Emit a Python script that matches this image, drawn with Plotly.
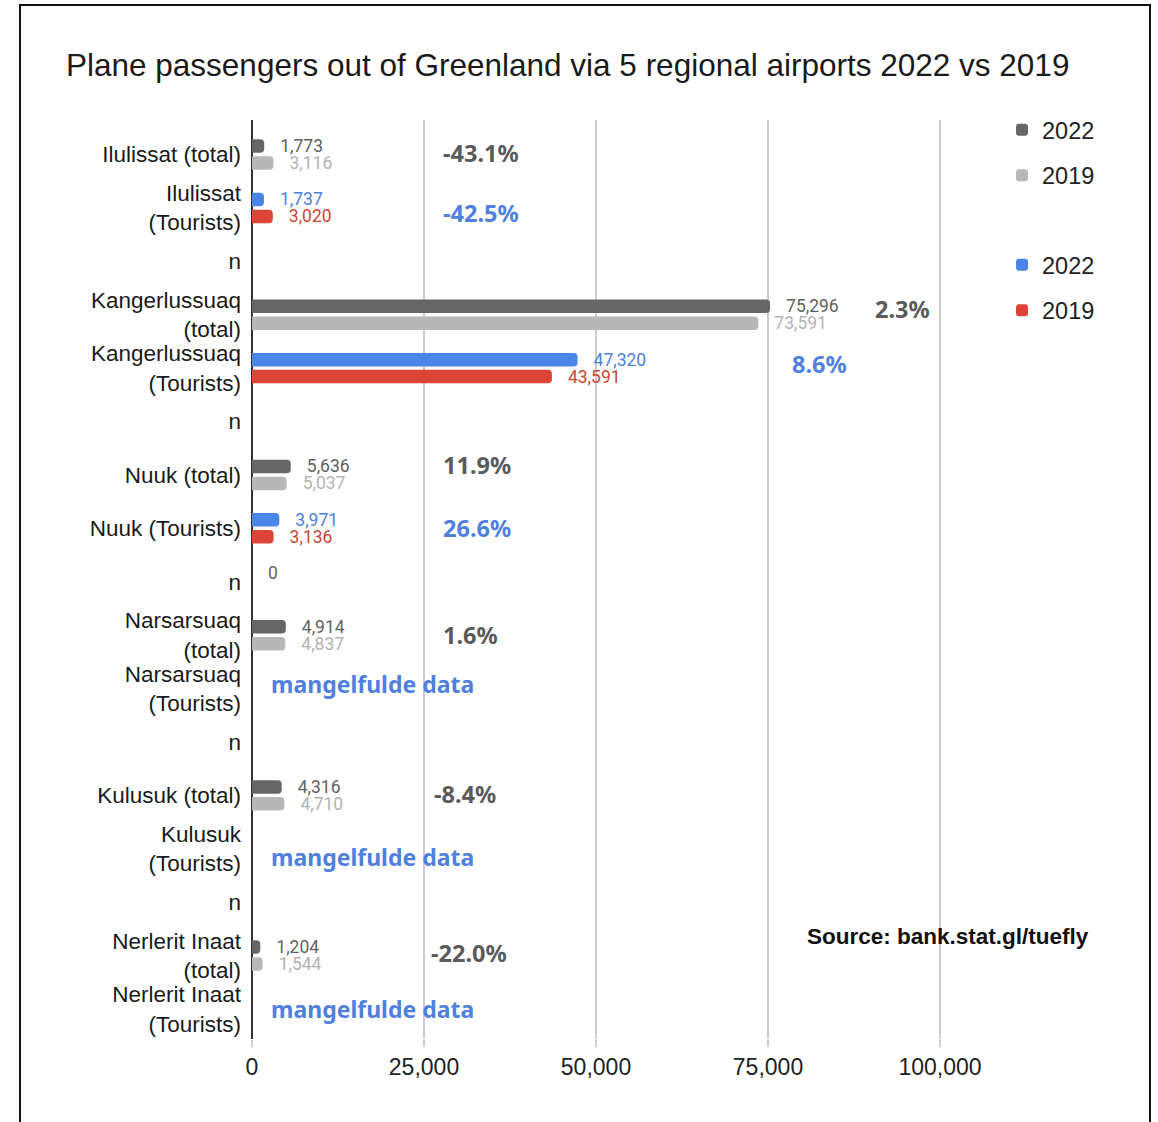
import plotly.graph_objects as go

# Row labels (top to bottom); "n" rows act as spacers between airports
rows = [
    "Ilulissat (total)", "Ilulissat<br>(Tourists)", "n",
    "Kangerlussuaq<br>(total)", "Kangerlussuaq<br>(Tourists)", "n",
    "Nuuk (total)", "Nuuk (Tourists)", "n",
    "Narsarsuaq<br>(total)", "Narsarsuaq<br>(Tourists)", "n",
    "Kulusuk (total)", "Kulusuk<br>(Tourists)", "n",
    "Nerlerit Inaat<br>(total)", "Nerlerit Inaat<br>(Tourists)",
]

# Passenger counts per row (None = no bar in that row)
total_2022 = [1773, None, None, 75296, None, None, 5636, None, 0, 4914, None, None, 4316, None, None, 1204, None]
total_2019 = [3116, None, None, 73591, None, None, 5037, None, None, 4837, None, None, 4710, None, None, 1544, None]
tourists_2022 = [None, 1737, None, None, 47320, None, None, 3971, None, None, None, None, None, None, None, None, None]
tourists_2019 = [None, 3020, None, None, 43591, None, None, 3136, None, None, None, None, None, None, None, None, None]

# Rows where tourist figures are incomplete, with a vertical nudge in px
missing_rows = [10, 13, 16]
missing_shift = [5, -8, 0]
missing_text = "mangelfulde data"

x_ticks = [0, 25000, 50000, 75000, 100000]

# Change 2022 vs 2019 drawn next to each pair: (row, x-centre, y-shift px down, series kind)
change_marks = [
    (0, 33300, -2, "total"),
    (1, 33300, 5, "tourists"),
    (3, 94500, -6, "total"),
    (4, 82500, -4, "tourists"),
    (6, 32700, -10, "total"),
    (7, 32700, 0, "tourists"),
    (9, 31700, 0, "total"),
    (12, 31000, -1, "total"),
    (15, 31500, -3, "total"),
]

C_DARK = "#666666"
C_LIGHT = "#b7b7b7"
C_BLUE = "#4a86e8"
C_RED = "#db4437"
T_DARK = "#5f5f5f"
T_LIGHT = "#b3b3b3"
T_BLUE = "#4f80dd"
T_RED = "#cc4636"
PCT_GRAY = "#5a5a5a"
PCT_BLUE = "#4f80dd"

SANS = "Liberation Sans, Arial, sans-serif"

pos = list(range(len(rows)))
BAR_W = 0.253
GAP = "\u00a0\u00a0\u00a0"


def bar_trace(values, color, text_color, name, legend, upper):
    offset = -0.159 - BAR_W / 2 if upper else 0.159 - BAR_W / 2
    return go.Bar(
        y=pos, x=values, orientation="h",
        width=BAR_W, offset=offset,
        marker=dict(color=color, line=dict(width=0)),
        text=["" if v is None else GAP + f"{v:,}" for v in values],
        textposition="outside", constraintext="none", cliponaxis=False,
        textfont=dict(family="Roboto", size=17.5, color=text_color),
        name=name, legend=legend, legendgroup=name + legend,
        hoverinfo="skip",
    )


fig = go.Figure()
fig.add_trace(bar_trace(total_2022, C_DARK, T_DARK, "2022", "legend", True))
fig.add_trace(bar_trace(total_2019, C_LIGHT, T_LIGHT, "2019", "legend", False))
fig.add_trace(bar_trace(tourists_2022, C_BLUE, T_BLUE, "2022", "legend2", True))
fig.add_trace(bar_trace(tourists_2019, C_RED, T_RED, "2019", "legend2", False))

annotations = []
for row, xc, ys, kind in change_marks:
    if kind == "total":
        new, old, col = total_2022[row], total_2019[row], PCT_GRAY
    else:
        new, old, col = tourists_2022[row], tourists_2019[row], PCT_BLUE
    pct = (new - old) / old * 100
    annotations.append(dict(
        x=xc, y=row, xref="x", yref="y", yshift=-ys,
        text=f"{pct:.1f}%", showarrow=False,
        font=dict(family="Noto Sans", size=23.5, color=col, weight="bold"),
    ))

for row, ys in zip(missing_rows, missing_shift):
    annotations.append(dict(
        x=2400, y=row, xref="x", yref="y", xanchor="left", yshift=ys,
        text=missing_text, showarrow=False,
        font=dict(family="Noto Sans", size=23, color=PCT_BLUE, weight="bold"),
    ))

# Plot area in px; 0 sits at x=252 and 100,000 at x=940
PX_L, PX_R, PX_T, PX_B = 252, 944, 120, 1039
X_0, X_100K = 252, 940
W, H = 1158, 1122
pw, ph = PX_R - PX_L, PX_B - PX_T
x_max = 100000 * (PX_R - X_0) / (X_100K - X_0)


def px_to_paper_x(px):
    return (px - PX_L) / pw


def px_to_paper_y(py):
    return (PX_B - py) / ph


annotations.append(dict(
    x=px_to_paper_x(805), y=px_to_paper_y(936), xref="paper", yref="paper",
    xanchor="left", yanchor="middle",
    text="Source: bank.stat.gl/tuefly", showarrow=False,
    font=dict(family=SANS, size=22.5, color="#111", weight="bold"),
))

frame = dict(
    type="rect", xref="paper", yref="paper",
    x0=px_to_paper_x(20), x1=px_to_paper_x(1150),
    y0=px_to_paper_y(1130), y1=px_to_paper_y(5),
    line=dict(color="#111", width=2), fillcolor="rgba(0,0,0,0)", layer="above",
)

legend_common = dict(
    font=dict(family=SANS, size=23.5, color="#222"),
    xanchor="left", yanchor="top", tracegroupgap=12, bgcolor="rgba(0,0,0,0)",
    traceorder="grouped",
)

fig.update_layout(
    width=W, height=H,
    margin=dict(l=PX_L, r=W - PX_R, t=PX_T, b=H - PX_B),
    paper_bgcolor="white", plot_bgcolor="white",
    barmode="overlay", barcornerradius=4,
    title=dict(
        text="Plane passengers out of Greenland via 5 regional airports 2022 vs 2019",
        x=66 / W, xanchor="left", xref="container",
        y=1 - 65 / H, yanchor="middle", yref="container",
        font=dict(family=SANS, size=31.5, color="#1a1a1a"),
    ),
    xaxis=dict(
        range=[0, x_max], tickvals=x_ticks,
        tickformat=",", showgrid=True, gridcolor="#cccccc", gridwidth=1.5,
        zeroline=True, zerolinecolor="#333", zerolinewidth=1.5,
        ticks="outside", ticklen=7, tickcolor="#cccccc", tickwidth=1.5,
        tickfont=dict(family=SANS, size=23, color="#222"),
        showline=False, fixedrange=True,
    ),
    yaxis=dict(
        range=[16 + (PX_B - 1009) / 53.4, -(154.5 - PX_T) / 53.4],
        tickvals=pos, ticktext=rows, showgrid=False, zeroline=False,
        ticklabelstandoff=10,
        tickfont=dict(family=SANS, size=22.5, color="#1a1a1a"),
        showline=False, fixedrange=True,
    ),
    legend=dict(x=px_to_paper_x(1002), y=px_to_paper_y(108), **legend_common),
    legend2=dict(x=px_to_paper_x(1002), y=px_to_paper_y(243), **legend_common),
    annotations=annotations,
    shapes=[frame],
    showlegend=True,
)

fig.write_html("out.html")
